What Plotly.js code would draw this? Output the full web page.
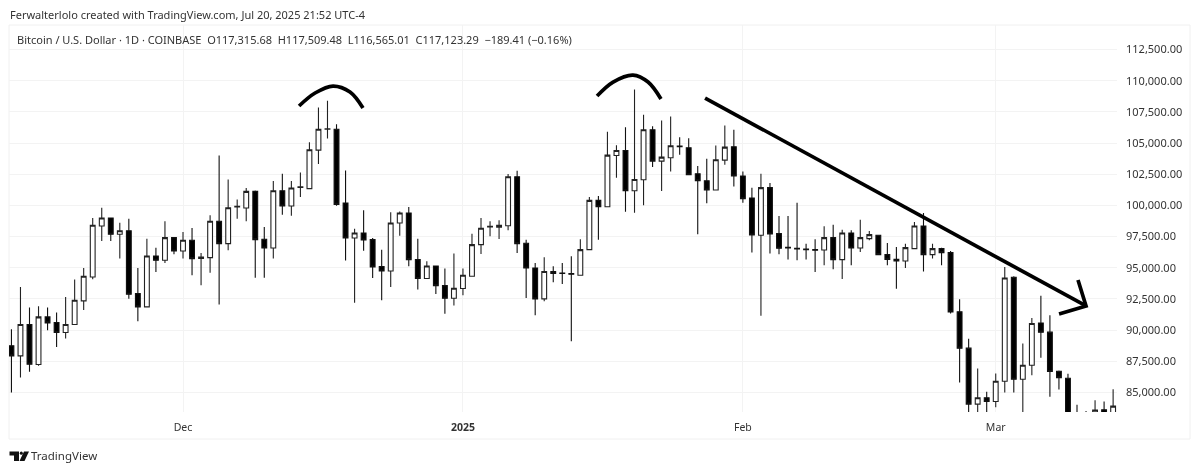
<!DOCTYPE html>
<html><head><meta charset="utf-8">
<script src="https://cdn.plot.ly/plotly-3.0.1.min.js"></script>
<style>html,body{margin:0;padding:0;background:#fff}#c{width:1200px;height:473px;filter:blur(0.45px)}</style>
</head><body><div id="c"></div>
<script>
const dates = ['2024-11-12','2024-11-13','2024-11-14','2024-11-15','2024-11-16','2024-11-17','2024-11-18','2024-11-19','2024-11-20','2024-11-21','2024-11-22','2024-11-23','2024-11-24','2024-11-25','2024-11-26','2024-11-27','2024-11-28','2024-11-29','2024-11-30',
'2024-12-01','2024-12-02','2024-12-03','2024-12-04','2024-12-05','2024-12-06','2024-12-07','2024-12-08','2024-12-09','2024-12-10','2024-12-11','2024-12-12','2024-12-13','2024-12-14','2024-12-15','2024-12-16','2024-12-17','2024-12-18','2024-12-19','2024-12-20','2024-12-21','2024-12-22','2024-12-23','2024-12-24','2024-12-25','2024-12-26','2024-12-27','2024-12-28','2024-12-29','2024-12-30','2024-12-31',
'2025-01-01','2025-01-02','2025-01-03','2025-01-04','2025-01-05','2025-01-06','2025-01-07','2025-01-08','2025-01-09','2025-01-10','2025-01-11','2025-01-12','2025-01-13','2025-01-14','2025-01-15','2025-01-16','2025-01-17','2025-01-18','2025-01-19','2025-01-20','2025-01-21','2025-01-22','2025-01-23','2025-01-24','2025-01-25','2025-01-26','2025-01-27','2025-01-28','2025-01-29','2025-01-30','2025-01-31',
'2025-02-01','2025-02-02','2025-02-03','2025-02-04','2025-02-05','2025-02-06','2025-02-07','2025-02-08','2025-02-09','2025-02-10','2025-02-11','2025-02-12','2025-02-13','2025-02-14','2025-02-15','2025-02-16','2025-02-17','2025-02-18','2025-02-19','2025-02-20','2025-02-21','2025-02-22','2025-02-23','2025-02-24','2025-02-25','2025-02-26','2025-02-27','2025-02-28',
'2025-03-01','2025-03-02','2025-03-03','2025-03-04','2025-03-05','2025-03-06','2025-03-07','2025-03-08','2025-03-09','2025-03-10','2025-03-11','2025-03-12','2025-03-13','2025-03-14'];
const opens = [88733,87932,90441,87237,91055,90600,89800,90440,92340,94260,98345,98990,97680,97970,92925,91860,95940,95600,97410,96340,97200,95750,95810,98720,96930,99870,99790,101120,97280,96580,101170,99950,101440,101340,104430,106100,106110,100190,97380,97780,97250,95090,94740,98580,99390,95650,94130,95140,93560,92550,93330,94310,96850,98260,98240,98370,102300,96960,94980,92500,94690,94580,94530,94390,96450,100400,99890,104000,104400,101170,102060,106060,103550,103820,104750,104620,102540,101980,101230,103630,104700,102350,100590,97600,101420,97730,96640,96560,96500,96450,96420,97410,95650,97780,96580,97330,97600,96050,95670,95540,96530,98340,96050,96530,96210,91460,88550,84060,84570,84270,85900,94230,86060,87180,90570,89830,86700,86140,80700,78800,82900,83600,81100];
const highs = [90068,93458,91803,91910,91803,91400,92660,94050,94980,98990,99810,99000,98610,98930,94980,97330,96610,98720,97410,97860,98180,96180,99200,104000,102080,100480,101390,101200,98260,101950,102540,101950,102640,105070,107850,108380,106510,102800,98130,99600,97380,96450,99440,99500,99870,97330,95510,95140,94930,96130,94930,97730,98990,98720,98800,102510,102780,97250,95380,95830,95110,95380,95910,97280,100670,100750,105900,104830,106270,109290,107260,106350,106810,107130,105470,105390,103150,103740,104810,106410,106060,102720,101420,102540,101790,99150,99150,100210,96930,97280,98320,98450,98050,98000,98850,97940,97650,96980,96660,96930,98660,99390,96930,96610,96340,92470,89300,86920,85050,86520,95060,94310,88920,90970,92760,91190,86760,86500,84000,83500,84380,84270,85260];
const lows = [84995,86196,86650,87130,89990,88650,89320,90440,91600,94070,97140,97140,95730,92520,90710,91860,94660,95380,96070,95730,94390,93590,94600,92040,96400,98930,98720,94200,94200,95730,99250,99170,100670,101330,103310,105370,99970,95570,92180,96370,94180,92390,93460,97570,95110,93250,94130,92900,91300,91960,92790,94310,96100,97520,97300,98000,96180,92580,91190,92310,93830,93700,89110,94390,96400,97250,99890,102220,99490,99410,100000,103070,101150,102720,104060,102460,97680,100160,101230,103260,101520,100210,96210,91140,96130,96080,95650,95590,95650,94660,95190,94870,94100,95190,96260,97200,96050,95190,93320,94980,96530,94690,95730,95190,91320,85800,78200,82200,83000,83800,85000,85000,81500,86380,87770,84650,85230,80000,77500,76600,80700,80800,81000];
const closes = [87932,90441,87264,91055,90575,89800,90440,92390,94310,98400,98990,97680,97970,92870,91860,95940,95600,97410,96340,97200,95730,95860,98720,96930,99810,99920,101120,97250,96580,101170,99950,101390,101490,104460,106110,106140,100080,97380,97780,97220,95060,94740,98580,99390,95650,94130,95140,93560,92550,93350,94390,96850,98160,98320,98400,102300,96930,94980,92500,94690,94530,94530,94480,96450,100400,99890,104030,104400,101170,102080,106060,103550,103870,104780,104700,102460,101980,101230,103660,104670,102350,100530,97620,101420,97700,96560,96580,96500,96450,96400,97410,95650,97780,96580,97410,97650,96050,95670,95540,96610,98340,96050,96530,96210,91460,88550,84060,84570,84270,85900,94180,86060,87180,90520,89830,86680,86170,80700,78800,82900,83580,81100,83900];

const arc1Dates = ['2024-12-13 20:24','2024-12-15 15:00','2024-12-17 14:40','2024-12-19 11:50','2024-12-20 22:20'];
const arc1Prices = [107970,109010,109570,109090,107810];
const arc2Dates = ['2025-01-15 20:24','2025-01-17 15:00','2025-01-19 20:00','2025-01-21 12:00','2025-01-22 22:20'];
const arc2Prices = [108770,109890,110450,109890,108530];
const trendDates = ['2025-01-27 19:30','2025-03-11 00:00'];
const trendPrices = [108610,91930];
const headDates = ['2025-03-10 02:40','2025-03-11 00:00','2025-03-08 00:15'];
const headPrices = [94010,91930,91290];

const priceTicks = [85000,87500,90000,92500,95000,97500,100000,102500,105000,107500,110000,112500];
const monthTicks = ['2024-12-01','2025-01-01','2025-02-01','2025-03-01'];
const monthLabels = ['Dec','<b>2025</b>','Feb','Mar'];

const headerText = 'Ferwalterlolo created with TradingView.com, Jul 20, 2025 21:52 UTC-4';
const legendText = 'Bitcoin / U.S. Dollar · 1D · COINBASE  O117,315.68  H117,509.48  L116,565.01  C117,123.29  −189.41 (−0.16%)';
const logoText = 'TradingView';

const W=1200,H=473,L=9,R=1117,T=25,B=412;
const px=x=>(x-L)/(R-L), py=y=>(B-y)/(B-T);
const poly=pts=>'M'+pts.map(p=>px(p[0])+' '+py(p[1])).join(' L')+' Z';
const FONT='"Noto Sans", sans-serif';

const ink={color:'#000',width:3.7};
function stroke(x,y,shape){return {type:'scatter',mode:'lines',x:x,y:y,line:Object.assign({},ink,{shape:shape||'linear',smoothing:1}),hoverinfo:'skip',showlegend:false};}

const traces=[{
  type:'candlestick',x:dates,open:opens,high:highs,low:lows,close:closes,
  increasing:{line:{color:'#222',width:1.1},fillcolor:'#ffffff'},
  decreasing:{line:{color:'#111',width:1.1},fillcolor:'#000000'},
  whiskerwidth:0,hoverinfo:'skip',showlegend:false
},
 stroke(arc1Dates,arc1Prices,'spline'),
 stroke(arc2Dates,arc2Prices,'spline'),
 stroke(trendDates,trendPrices),
 stroke(headDates,headPrices)
];
const layout={
  width:W,height:H,margin:{l:L,r:W-R,t:T,b:H-B},paper_bgcolor:'#fff',plot_bgcolor:'#fff',
  showlegend:false,boxgap:0.24,hovermode:false,
  xaxis:{type:'date',range:['2024-11-11 17:31','2025-03-14 10:19'],rangeslider:{visible:false},
    tickmode:'array',tickvals:monthTicks,ticktext:monthLabels,showgrid:true,gridcolor:'#f3f3f3',gridwidth:1,
    zeroline:false,showline:false,ticks:'',ticklabelstandoff:7,tickfont:{family:FONT,size:10.5,color:'#333'}},
  yaxis:{side:'right',range:[83428,114465],tickmode:'array',tickvals:priceTicks,tickformat:',.2f',
    showgrid:true,gridcolor:'#f3f3f3',gridwidth:1,zeroline:false,showline:false,ticks:'',
    ticklabelstandoff:8,tickfont:{family:FONT,size:11,color:'#333'}},
  annotations:[
    {xref:'paper',yref:'paper',x:px(8),y:py(14),xanchor:'left',yanchor:'middle',showarrow:false,text:headerText,font:{family:FONT,size:11,color:'#333'}},
    {xref:'paper',yref:'paper',x:px(15),y:py(39),xanchor:'left',yanchor:'middle',showarrow:false,text:legendText.replace(/  /g,'&nbsp;&nbsp;'),font:{family:FONT,size:11,color:'#333'}},
    {xref:'paper',yref:'paper',x:px(29),y:py(456),xanchor:'left',yanchor:'middle',showarrow:false,text:logoText,font:{family:FONT,size:11.5,color:'#333'}}
  ],
  shapes:[
    {type:'rect',xref:'paper',yref:'paper',x0:px(9),x1:px(1190),y0:py(25),y1:py(439),line:{color:'#f0f0f0',width:1},layer:'below'},
    {type:'path',xref:'paper',yref:'paper',path:poly([[9.5,451.5],[19,451.5],[19,461],[14,461],[14,455.5],[9.5,455.5]]),fillcolor:'#111',line:{width:0}},
    {type:'circle',xref:'paper',yref:'paper',x0:px(19.8),x1:px(22.8),y0:py(451.5),y1:py(454.8),fillcolor:'#111',line:{width:0}},
    {type:'path',xref:'paper',yref:'paper',path:poly([[24,451.5],[29,451.5],[24.5,461],[19.5,461]]),fillcolor:'#111',line:{width:0}}
  ]
};
Plotly.newPlot('c',traces,layout,{staticPlot:true,displayModeBar:false});
</script></body></html>
